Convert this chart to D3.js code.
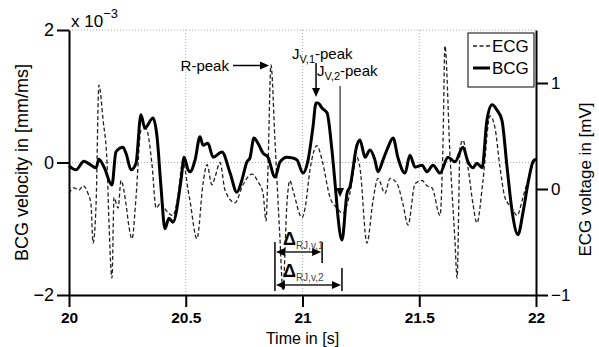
<!DOCTYPE html>
<html>
<head>
<meta charset="utf-8">
<script src="https://cdn.jsdelivr.net/npm/d3@7"></script>
<style>
  body { margin: 0; background: #fff; }
  svg { font-family: "Liberation Sans", Arial, sans-serif; }
</style>
</head>
<body>
<div id="chart"></div>
<script>
// ---- data (time in s, BCG in 1e-3 mm/ms, ECG in mV) ----
const bcgTime = [20.000, 20.030, 20.064, 20.094, 20.116, 20.128, 20.150, 20.184, 20.201, 20.231,
  20.244, 20.266, 20.287, 20.308, 20.325, 20.360, 20.377, 20.394, 20.411, 20.428,
  20.445, 20.480, 20.493, 20.510, 20.518, 20.540, 20.561, 20.574, 20.595, 20.617,
  20.655, 20.690, 20.719, 20.741, 20.762, 20.775, 20.792, 20.809, 20.831, 20.852,
  20.882, 20.904, 20.934, 20.955, 20.976, 21.002, 21.024, 21.045, 21.058, 21.066,
  21.084, 21.105, 21.126, 21.143, 21.152, 21.169, 21.191, 21.203, 21.233, 21.246,
  21.268, 21.289, 21.310, 21.323, 21.345, 21.366, 21.388, 21.409, 21.439, 21.460,
  21.482, 21.512, 21.533, 21.559, 21.589, 21.623, 21.653, 21.687, 21.709, 21.730,
  21.747, 21.769, 21.790, 21.812, 21.833, 21.854, 21.876, 21.897, 21.923, 21.944,
  21.966, 21.987, 22.000];
const bcgValue = [-0.05, -0.11, 0.02, -0.04, -0.08, 0.05, -0.07, -0.34, 0.16, 0.23,
  0.14, -0.11, -0.01, 0.72, 0.52, 0.67, 0.39, -0.37, -1.00, -0.84,
  -0.90, -0.26, 0.08, -0.11, -0.14, 0.04, 0.39, 0.26, 0.29, 0.08,
  0.16, -0.16, -0.45, -0.26, 0.01, 0.07, 0.37, 0.29, 0.14, 0.08,
  -0.22, 0.01, 0.08, 0.07, 0.04, -0.16, 0.04, 0.54, 0.90, 0.90,
  0.82, 0.75, 0.19, -0.46, -0.82, -1.17, -0.46, -0.37, 0.26, 0.34,
  0.08, 0.19, 0.04, -0.14, 0.04, 0.23, 0.37, 0.07, -0.16, 0.11,
  -0.07, -0.04, -0.14, -0.04, -0.16, 0.08, 0.01, 0.23, 0.01, -0.08,
  -0.01, -0.08, 0.64, 0.87, 0.79, 0.64, -0.07, -0.72, -1.09, -0.76,
  -0.31, 0.01, 0.05];

const ecgTime = [20.000, 20.021, 20.043, 20.060, 20.081, 20.094, 20.103, 20.116, 20.128, 20.146,
  20.163, 20.171, 20.184, 20.193, 20.210, 20.223, 20.244, 20.257, 20.270, 20.287,
  20.308, 20.330, 20.355, 20.373, 20.394, 20.415, 20.445, 20.467, 20.488, 20.510,
  20.518, 20.548, 20.574, 20.591, 20.612, 20.625, 20.647, 20.668, 20.711, 20.745,
  20.784, 20.809, 20.831, 20.844, 20.852, 20.865, 20.882, 20.904, 20.916, 20.934,
  20.946, 20.959, 20.998, 21.011, 21.032, 21.062, 21.084, 21.118, 21.148, 21.173,
  21.203, 21.233, 21.246, 21.276, 21.302, 21.323, 21.353, 21.375, 21.405, 21.430,
  21.452, 21.482, 21.512, 21.533, 21.555, 21.589, 21.602, 21.610, 21.632, 21.653,
  21.662, 21.675, 21.687, 21.709, 21.730, 21.747, 21.773, 21.803, 21.824, 21.846,
  21.867, 21.897, 21.919, 21.944, 21.974, 21.991];
const ecgValue = [-0.04, 0.01, -0.01, 0.03, -0.04, -0.14, -0.51, -0.14, 0.98, 0.65,
  0.24, -0.30, -0.84, -0.08, -0.18, 0.08, -0.14, -0.36, -0.47, -0.08,
  0.55, 0.57, 0.24, -0.18, -0.13, -0.20, -0.25, -0.06, 0.27, -0.01,
  -0.11, -0.47, 0.05, 0.23, 0.04, 0.11, 0.25, -0.01, -0.13, 0.04,
  0.14, 0.07, -0.04, -0.30, 0.18, 1.17, 0.46, -0.49, -0.96, -0.11,
  0.08, -0.01, -0.27, -0.18, 0.18, 0.41, 0.27, -0.08, -0.18, -0.23,
  -0.04, 0.30, 0.20, -0.51, -0.11, 0.10, -0.04, 0.10, 0.05, -0.14,
  -0.34, 0.05, 0.08, 0.03, 0.01, -0.25, 0.46, 1.35, 0.30, -0.49,
  -0.84, 0.39, 0.46, 0.20, -0.14, -0.32, 0.08, 0.69, 0.58, 0.20,
  -0.08, -0.18, -0.25, -0.08, 0.15, 0.25];

const xTicks = [20, 20.5, 21, 21.5, 22];
const bcgTicks = [-2, 0, 2];
const ecgTicks = [-1, 0, 1];

// annotated events (time, value on its own axis)
const rPeak = { t: 20.865, v: 1.165 };
const jPeak1 = { t: 21.058, v: 0.90 };
const jPeak2 = { t: 21.161, v: -0.52 };
const deltaStart = 20.882;
const delta1End = 21.084;
const delta2End = 21.169;

// ---- layout ----
const W = 599, H = 347;
const plot = { left: 69, right: 536, top: 30, bottom: 295 };
const FONT = "Liberation Sans, Arial, sans-serif";

const x = d3.scaleLinear().domain([20, 22]).range([plot.left, plot.right]);
const yL = d3.scaleLinear().domain([-2, 2]).range([plot.bottom, plot.top]);
const yR = d3.scaleLinear().domain([-1, 1.5]).range([plot.bottom, plot.top]);

const svg = d3.select("#chart").append("svg")
  .attr("width", W).attr("height", H)
  .attr("viewBox", `0 0 ${W} ${H}`);

// grid (dotted)
const grid = svg.append("g")
  .attr("stroke", "#aaa").attr("stroke-width", 1).attr("stroke-dasharray", "1,2");
[20.5, 21, 21.5].forEach(t => {
  grid.append("line").attr("x1", x(t)).attr("x2", x(t))
    .attr("y1", plot.top).attr("y2", plot.bottom);
});
[0, 2].forEach(v => {
  grid.append("line").attr("x1", plot.left).attr("x2", plot.right)
    .attr("y1", yL(v)).attr("y2", yL(v));
});

// curves
const ecgData = ecgTime.map((t, i) => [t, ecgValue[i]]);
const bcgData = bcgTime.map((t, i) => [t, bcgValue[i]]);

const ecgLine = d3.line().x(d => x(d[0])).y(d => yR(d[1])).curve(d3.curveMonotoneX);
const bcgLine = d3.line().x(d => x(d[0])).y(d => yL(d[1])).curve(d3.curveMonotoneX);

svg.append("path").datum(ecgData)
  .attr("fill", "none").attr("stroke", "#222").attr("stroke-width", 1.3)
  .attr("stroke-dasharray", "4,2.5").attr("d", ecgLine);

svg.append("path").datum(bcgData)
  .attr("fill", "none").attr("stroke", "#000").attr("stroke-width", 3)
  .attr("stroke-linejoin", "round").attr("d", bcgLine);

// axes
const fmt = d3.format("");
const axisStyle = g => {
  g.select(".domain").attr("stroke", "#000").attr("stroke-width", 2);
  g.selectAll(".tick line").attr("stroke", "#000").attr("stroke-width", 2);
  g.selectAll(".tick text").attr("fill", "#000").attr("font-family", FONT);
};

svg.append("g").attr("transform", `translate(0,${plot.bottom})`)
  .call(d3.axisBottom(x).tickValues(xTicks).tickSize(12).tickSizeOuter(0).tickPadding(5)
    .tickFormat(fmt))
  .call(axisStyle)
  .call(g => g.selectAll(".tick text").attr("font-size", 15.5).attr("font-weight", "bold"));

svg.append("g").attr("transform", `translate(${plot.left},0)`)
  .call(d3.axisLeft(yL).tickValues(bcgTicks).tickSize(12).tickSizeOuter(0).tickPadding(3)
    .tickFormat(fmt))
  .call(axisStyle)
  .call(g => g.selectAll(".tick text").attr("font-size", 18));

svg.append("g").attr("transform", `translate(${plot.right},0)`)
  .call(d3.axisRight(yR).tickValues(ecgTicks).tickSize(12).tickSizeOuter(0).tickPadding(3)
    .tickFormat(fmt))
  .call(axisStyle)
  .call(g => g.selectAll(".tick text").attr("font-size", 17));

// axis titles
svg.append("text").attr("x", (plot.left + plot.right) / 2).attr("y", 344)
  .attr("text-anchor", "middle").attr("font-size", 16).text("Time in [s]");

svg.append("text").attr("transform", `translate(28,${yL(0)}) rotate(-90)`)
  .attr("text-anchor", "middle").attr("font-size", 18).text("BCG velocity in [mm/ms]");

svg.append("text").attr("transform", `translate(591,${(plot.top + plot.bottom) / 2 + 17}) rotate(-90)`)
  .attr("text-anchor", "middle").attr("font-size", 17).text("ECG voltage in [mV]");

const expo = svg.append("text").attr("x", plot.left + 2).attr("y", 27).attr("font-size", 17);
expo.append("tspan").text("x 10");
expo.append("tspan").attr("dy", -9).attr("font-size", 13).text("\u22123");

// ---- annotations ----
function arrowHead(g, tipX, tipY, dir, color) {
  const len = 9, half = 4;
  let pts;
  if (dir === "right") pts = [[tipX, tipY], [tipX - len, tipY - half], [tipX - len, tipY + half]];
  if (dir === "left") pts = [[tipX, tipY], [tipX + len, tipY - half], [tipX + len, tipY + half]];
  if (dir === "down") pts = [[tipX, tipY], [tipX - half, tipY - len], [tipX + half, tipY - len]];
  g.append("path").attr("d", d3.line()(pts) + "Z").attr("fill", color || "#000");
}

const ann = svg.append("g");

// R-peak
const rx = x(rPeak.t), ry = yR(rPeak.v);
ann.append("line").attr("x1", rx - 38).attr("x2", rx - 6).attr("y1", ry).attr("y2", ry)
  .attr("stroke", "#000").attr("stroke-width", 1.5);
arrowHead(ann, rx - 2, ry, "right");
ann.append("text").attr("x", rx - 42).attr("y", ry + 5).attr("text-anchor", "end")
  .attr("font-size", 15).text("R-peak");

// J_V,1 peak
const j1x = x(jPeak1.t), j1y = yL(jPeak1.v) - 6;
ann.append("line").attr("x1", j1x).attr("x2", j1x).attr("y1", 63).attr("y2", j1y - 6)
  .attr("stroke", "#000").attr("stroke-width", 1.5);
arrowHead(ann, j1x, j1y, "down");
const t1 = ann.append("text").attr("x", 292).attr("y", 59).attr("font-size", 15);
t1.append("tspan").text("J");
t1.append("tspan").attr("dy", 4).attr("font-size", 11).text("V,1");
t1.append("tspan").attr("dy", -4).text("-peak");

// J_V,2 peak
const j2x = x(jPeak2.t), j2y = yL(jPeak2.v);
ann.append("line").attr("x1", j2x).attr("x2", j2x).attr("y1", 86).attr("y2", j2y - 6)
  .attr("stroke", "#000").attr("stroke-width", 1);
arrowHead(ann, j2x, j2y, "down");
const t2 = ann.append("text").attr("x", 317).attr("y", 76).attr("font-size", 15);
t2.append("tspan").text("J");
t2.append("tspan").attr("dy", 4).attr("font-size", 11).text("V,2");
t2.append("tspan").attr("dy", -4).text("-peak");

// Delta intervals
const dx0 = x(deltaStart), dx1 = x(delta1End), dx2 = x(delta2End);
ann.append("line").attr("x1", dx0).attr("x2", dx0).attr("y1", 242).attr("y2", 291)
  .attr("stroke", "#000").attr("stroke-width", 1.5);
ann.append("line").attr("x1", dx1).attr("x2", dx1).attr("y1", 242).attr("y2", 263)
  .attr("stroke", "#000").attr("stroke-width", 1.5);
ann.append("line").attr("x1", dx2).attr("x2", dx2).attr("y1", 268).attr("y2", 291)
  .attr("stroke", "#000").attr("stroke-width", 1.5);

[[dx1, 252], [dx2, 285]].forEach(([xe, yy]) => {
  ann.append("line").attr("x1", dx0 + 6).attr("x2", xe - 6).attr("y1", yy).attr("y2", yy)
    .attr("stroke", "#555").attr("stroke-width", 2);
  arrowHead(ann, dx0 + 1, yy, "left");
  arrowHead(ann, xe - 1, yy, "right");
});

[["RJ,v,1", 245], ["RJ,v,2", 277]].forEach(([sub, yy]) => {
  const t = ann.append("text").attr("x", dx0 + 8).attr("y", yy).attr("font-size", 18)
    .attr("font-weight", "bold");
  t.append("tspan").text("\u0394");
  t.append("tspan").attr("dy", 4).attr("font-size", 10).attr("font-weight", "normal")
    .attr("fill", "#444").text(sub);
});

// legend
const lg = svg.append("g").attr("transform", "translate(468,33)");
lg.append("rect").attr("width", 66).attr("height", 54)
  .attr("fill", "#fff").attr("stroke", "#000").attr("stroke-width", 1);
lg.append("line").attr("x1", 5).attr("x2", 22).attr("y1", 13).attr("y2", 13)
  .attr("stroke", "#222").attr("stroke-width", 1.3).attr("stroke-dasharray", "4,2.5");
lg.append("text").attr("x", 24).attr("y", 19).attr("font-size", 17).text("ECG");
lg.append("line").attr("x1", 5).attr("x2", 22).attr("y1", 35).attr("y2", 35)
  .attr("stroke", "#000").attr("stroke-width", 3);
lg.append("text").attr("x", 24).attr("y", 41).attr("font-size", 17).text("BCG");
</script>
</body>
</html>
